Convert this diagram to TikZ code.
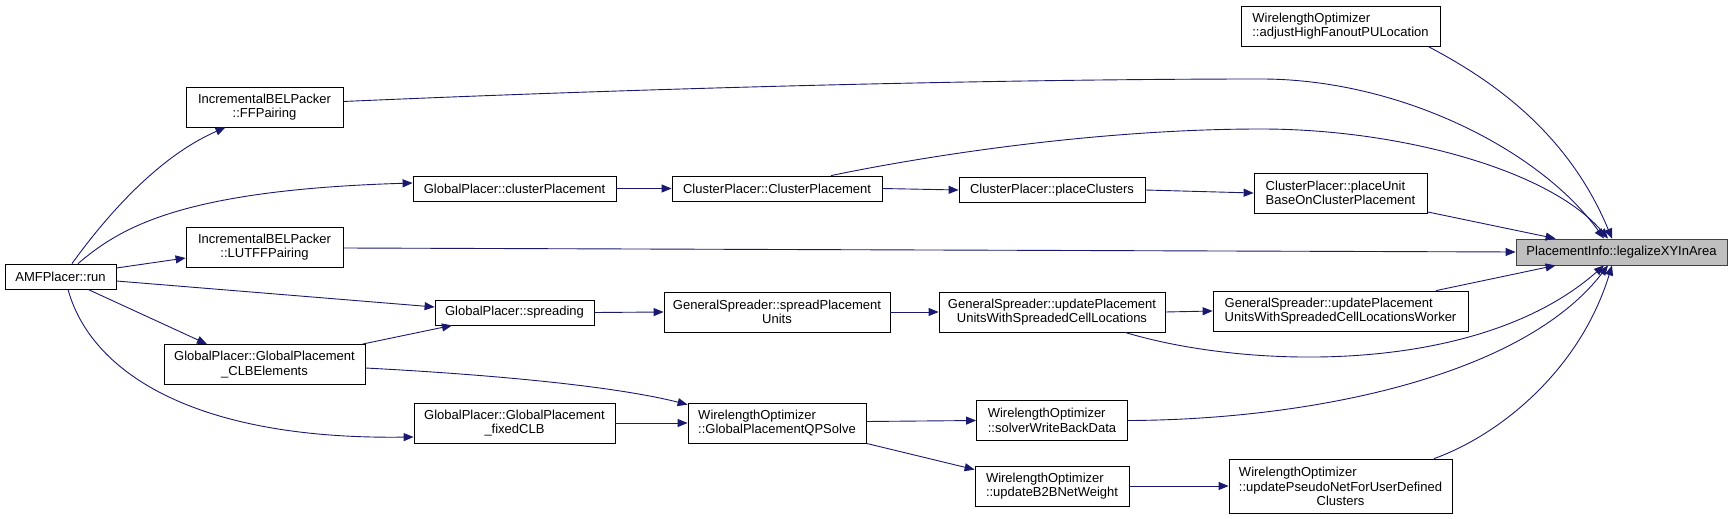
\documentclass[tikz,border=0pt]{standalone}
\usepackage{fontspec}
\setmainfont{Liberation Sans}
\usetikzlibrary{arrows.meta}
\definecolor{callblue}{HTML}{191970}
\definecolor{tgtgray}{HTML}{BFBFBF}
\definecolor{tgtline}{HTML}{404040}

\begin{document}
\begin{tikzpicture}[x=1pt, y=-1pt, every node/.style={font=\fontsize{13}{14.5}\selectfont}, fn/.style={draw=black, fill=white, line width=0.8pt, inner sep=0pt, minimum height=25pt, align=center}, fn2/.style={fn, minimum height=40pt}, call/.style={draw=callblue, line width=0.9pt, -{Triangle[length=10pt,width=8pt]}}]
	\useasboundingbox (0,0) rectangle (1732,519);
	\node[fn, minimum width=111pt] (run) at (60.5,276.5) {AMFPlacer::run};
	\node[fn2, minimum width=157pt] (ffp) at (264.5,107) {IncrementalBELPacker\\::FFPairing}; \node[fn2, minimum width=157pt] (lutff) at (264.5,247) {IncrementalBELPacker\\::LUTFFPairing}; \node[fn2, minimum width=201pt] (clb) at (264.5,364.5) {GlobalPlacer::GlobalPlacement\\\_CLBElements};
	\node[fn, minimum width=203pt] (cp) at (514.5,188.5) {GlobalPlacer::clusterPlacement}; \node[fn, minimum width=159pt] (spread) at (514.5,312.5) {GlobalPlacer::spreading}; \node[fn2, minimum width=201pt] (fixed) at (514.5,423) {GlobalPlacer::GlobalPlacement\\\_fixedCLB};
	\node[fn, minimum width=210pt] (clp) at (777,188.5) {ClusterPlacer::ClusterPlacement}; \node[fn2, minimum width=226pt] (spu) at (777,312) {GeneralSpreader::spreadPlacement\\Units}; \node[fn2, minimum width=178pt, align=left] (qp) at (777,423) {WirelengthOptimizer\\::GlobalPlacementQPSolve};
	\node[fn, minimum width=186pt] (plc) at (1052,190) {ClusterPlacer::placeClusters}; \node[fn2, minimum width=226pt] (upd) at (1052,312) {GeneralSpreader::updatePlacement\\UnitsWithSpreadedCellLocations}; \node[fn2, minimum width=151pt, align=left] (swb) at (1052,420.5) {WirelengthOptimizer\\::solverWriteBackData}; \node[fn2, minimum width=154pt, align=left] (b2b) at (1052,486) {WirelengthOptimizer\\::updateB2BNetWeight};
	\node[fn2, minimum width=199pt, align=left] (adj) at (1340.5,26) {WirelengthOptimizer\\::adjustHighFanoutPULocation}; \node[fn2, minimum width=173pt, align=left] (pub) at (1340.5,193) {ClusterPlacer::placeUnit\\BaseOnClusterPlacement}; \node[fn2, minimum width=255pt, align=left] (wrk) at (1340.5,311) {GeneralSpreader::updatePlacement\\UnitsWithSpreadedCellLocationsWorker};
	\node[fn, minimum width=223pt, minimum height=54pt] (pse) at (1340.5,486) {\begin{tabular}[b]{@{}l@{}}WirelengthOptimizer\\::updatePseudoNetForUserDefined\end{tabular}\\Clusters};
	\node[fn, draw=tgtline, fill=tgtgray, minimum width=211pt, minimum height=26pt] (tgt) at (1621.5,252) {PlacementInfo::legalizeXYInArea};
	\foreach \a/\b in {cp/clp, clp/plc, spread/spu, spu/upd, upd/wrk, fixed/qp, b2b/pse, plc/pub} {\draw[call] (\a.east) -- (\b.west);}
	\draw[call] ([xshift=11.5pt]run.north) .. controls (102,222) and (155,158) .. ([xshift=-39pt]ffp.south);
	\draw[call] ([xshift=17.5pt]run.north) .. controls (120,228) and (180,190) .. ([yshift=5.5pt]cp.west);
	\draw[call] ([yshift=8.5pt]run.east) -- ([yshift=-11pt]lutff.west);
	\draw[call] ([yshift=-4.5pt]run.east) -- ([yshift=5.5pt]spread.west);
	\draw[call] ([xshift=27.5pt]run.south) -- ([xshift=-57.5pt]clb.north);
	\draw[call] ([xshift=7.5pt]run.south) .. controls (90,370) and (190,440) .. ([yshift=-14pt]fixed.west);
	\draw[call] ([xshift=-3pt]clb.north east) -- ([xshift=-62.5pt]spread.south);
	\draw[call] ([yshift=-3.5pt]clb.east) .. controls (480,374) and (610,385) .. ([yshift=-2pt]qp.north west);
	\draw[call] ([yshift=1.5pt]qp.east) -- (swb.west);
	\draw[call] (qp.south east) -- ([yshift=-4pt]b2b.north west);
	\draw[call] ([yshift=5.5pt]ffp.east) .. controls (650,88) and (1000,79) .. (1261,79) .. controls (1400,79) and (1540,150) .. ([xshift=-17.5pt]tgt.north);
	\draw[call] ([xshift=54pt]clp.north) .. controls (930,155) and (1100,129) .. (1261,129) .. controls (1400,129) and (1550,170) .. ([xshift=-13.5pt]tgt.north);
	\draw[call] ([xshift=87.5pt]adj.south) .. controls (1480,74) and (1565,125) .. ([xshift=-9.5pt]tgt.north);
	\draw[call] ([yshift=1.5pt]pub.south east) -- ([xshift=40pt]tgt.north west);
	\draw[call] ([yshift=-1pt]lutff.east) -- (tgt.west);
	\draw[call] ([xshift=73pt]upd.south) .. controls (1250,370) and (1480,375) .. ([xshift=-17.5pt]tgt.south);
	\draw[call] ([xshift=95.5pt]wrk.north) -- ([xshift=40pt]tgt.south west);
	\draw[call] (swb.east) .. controls (1300,420) and (1520,380) .. ([xshift=-13.5pt]tgt.south);
	\draw[call] ([xshift=93.5pt]pse.north) .. controls (1500,435) and (1580,370) .. ([xshift=-9.5pt]tgt.south);
\end{tikzpicture}
\end{document}
